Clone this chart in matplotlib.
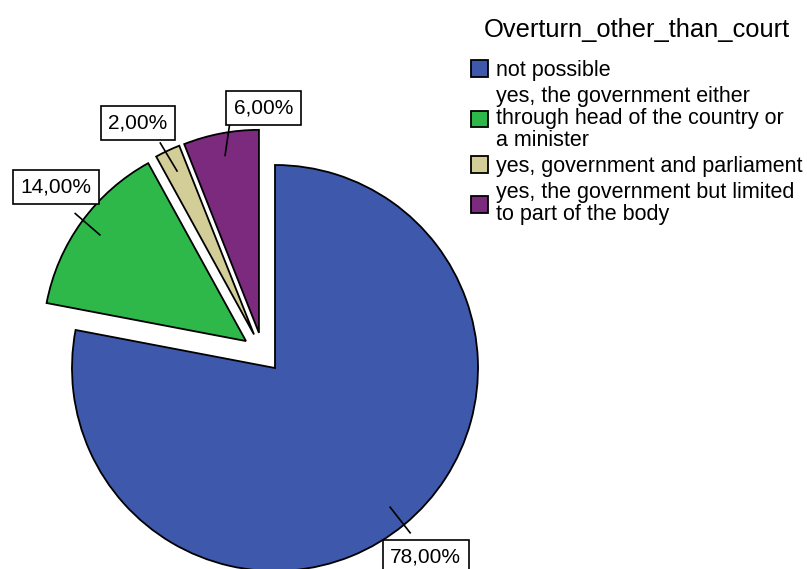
import numpy as np
import matplotlib
matplotlib.use("Agg")
import matplotlib.pyplot as plt

plt.rcParams['font.family'] = ['Liberation Sans', 'DejaVu Sans']

# datos del grafico
categorias = ["not possible",
              "yes, the government either\nthrough head of the country or\na minister",
              "yes, government and parliament",
              "yes, the government but limited\nto part of the body"]
porcentajes = [78.0, 14.0, 2.0, 6.0]
titulo_leyenda = "Overturn_other_than_court"

colores = ["#3E58AC", "#2EB84A", "#D3CE97", "#7B2A7E"]
separacion = [0.0, 0.1025, 0.1025, 0.1025]
# el grupo separado se desplaza ademas hacia su angulo medio
desplazamiento_grupo = 0.094
# ajustes de posicion de las etiquetas (radio relativo, giro en grados)
radio_etiqueta = [1.19, 1.205, 1.19, 1.11]
giro_etiqueta = [-1, -3, 3.5, -12]

fig = plt.figure(figsize=(8.07, 5.69), dpi=100)
ax = fig.add_axes([0, 0, 1, 1])

cunas, _ = ax.pie(porcentajes, colors=colores, explode=separacion, startangle=90,
                  counterclock=False, radius=1.0,
                  wedgeprops=dict(edgecolor='black', linewidth=1.3))

# desplazar el grupo de porciones separadas
grupo = [c for c, s in zip(cunas, separacion) if s > 0]
if grupo:
    t1 = min(c.theta1 for c in grupo)
    t2 = max(c.theta2 for c in grupo)
    ang = np.deg2rad((t1 + t2) / 2)
    for c in grupo:
        cx, cy = c.center
        c.set_center((cx + desplazamiento_grupo * np.cos(ang),
                      cy + desplazamiento_grupo * np.sin(ang)))

# escala: 203 px por unidad, centro en (275, 368) px
ax.set_xlim(-275 / 203, (807 - 275) / 203)
ax.set_ylim(-(569 - 368) / 203, 368 / 203)
ax.set_aspect('auto')
ax.axis('off')

for cuna, valor, rr, dg in zip(cunas, porcentajes, radio_etiqueta, giro_etiqueta):
    cx, cy = cuna.center
    medio = np.deg2rad((cuna.theta1 + cuna.theta2) / 2)
    x0, y0 = cx + 0.89 * np.cos(medio), cy + 0.89 * np.sin(medio)
    a1 = medio + np.deg2rad(dg * 0.25)
    x1, y1 = cx + 1.05 * np.cos(a1), cy + 1.05 * np.sin(a1)
    ax.plot([x0, x1], [y0, y1], color='black', linewidth=1.2)
    a2 = medio + np.deg2rad(dg)
    xt, yt = cx + rr * np.cos(a2), cy + rr * np.sin(a2)
    texto = f"{valor:.2f}%".replace('.', ',')
    ax.text(xt, yt, texto, ha='center', va='center', fontsize=15, zorder=5,
            bbox=dict(boxstyle='square,pad=0.36', facecolor='white',
                      edgecolor='black', linewidth=1.2))

ley = ax.legend(cunas, categorias, title=titulo_leyenda, loc='upper left',
                bbox_to_anchor=(471 / 807, 1 - 18 / 569), bbox_transform=fig.transFigure,
                frameon=False, fontsize=15.5, title_fontsize=18.4, borderpad=0,
                borderaxespad=0, handlelength=0.8, handleheight=0.8,
                handletextpad=0.35, labelspacing=0.25)
for t in ley.get_texts():
    t.set_linespacing(1.04)
ley._legend_box.sep = 13

fig.savefig("out.png", dpi=100)
